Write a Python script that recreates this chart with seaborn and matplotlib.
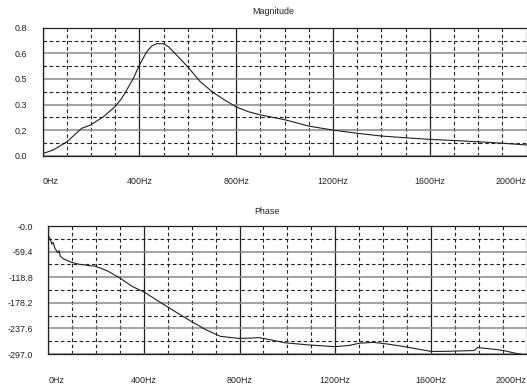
import numpy as np
import pandas as pd
import matplotlib
matplotlib.use("Agg")
import matplotlib.pyplot as plt
from matplotlib.ticker import FixedLocator, MultipleLocator
import seaborn as sns

# ---- data ----
mag_freq = [0, 44, 100, 161, 198, 251, 299, 327, 347, 375, 400, 430, 451, 471,
            499, 520, 540, 600, 650, 700, 750, 800, 850, 900, 1000, 1100, 1200,
            1300, 1400, 1500, 1600, 1700, 1800, 1900, 2000]
mag_vals = [0.013, 0.036, 0.087, 0.171, 0.192, 0.244, 0.306, 0.359, 0.41, 0.484,
            0.567, 0.65, 0.686, 0.70, 0.70, 0.681, 0.65, 0.555, 0.465, 0.40,
            0.35, 0.305, 0.275, 0.255, 0.225, 0.185, 0.16, 0.14, 0.123, 0.112,
            0.102, 0.095, 0.087, 0.078, 0.067]

ph_freq = [0, 8, 15, 20, 28, 35, 40, 45, 50, 60, 70, 80, 95, 110, 130, 150, 170,
           195, 220, 250, 300, 350, 400, 465, 520, 600, 660, 720, 800, 850, 880,
           920, 990, 1090, 1200, 1260, 1300, 1360, 1420, 1490, 1560, 1600, 1650,
           1715, 1780, 1795, 1830, 1880, 1920, 1960, 1975]
ph_vals = [-22, -30, -42, -38, -52, -58, -62, -57, -70, -75, -78, -80, -84, -86,
           -89, -90, -92, -93, -98, -105, -121, -140, -153, -176, -195, -222,
           -241, -256, -261, -260, -259, -263, -271, -276, -280, -277, -272,
           -270, -274, -280, -287, -291, -291, -290, -289, -282, -284, -287,
           -291, -296, -297]

x_ticks = [0, 400, 800, 1200, 1600, 2000]
x_labels = ["0Hz", "400Hz", "800Hz", "1200Hz", "1600Hz", "2000Hz"]
mag_ticks = [0.0, 0.16, 0.32, 0.48, 0.64, 0.80]
mag_labels = ["0.0", "0.2", "0.3", "0.5", "0.6", "0.8"]
ph_ticks = [0.0, -59.4, -118.8, -178.2, -237.6, -297.0]
ph_labels = ["-0.0", "-59.4", "-118.8", "-178.2", "-237.6", "-297.0"]

sns.set_style("white")
plt.rcParams["font.family"] = ["Liberation Sans", "DejaVu Sans"]

W, H = 527, 386
fig = plt.figure(figsize=(W / 100, H / 100), dpi=100)

def px_axes(left, top, right, bottom):
    return fig.add_axes([left / W, 1 - bottom / H, (right - left) / W, (bottom - top) / H])

ax1 = px_axes(42.7, 27.7, 527, 155.7)
ax2 = px_axes(48.3, 226, 527, 354)

mag_df = pd.DataFrame({"freq": mag_freq, "value": mag_vals})
ph_df = pd.DataFrame({"freq": ph_freq, "value": ph_vals})

sns.lineplot(data=mag_df, x="freq", y="value", ax=ax1, color="#202020", lw=0.8)
sns.lineplot(data=ph_df, x="freq", y="value", ax=ax2, color="#202020", lw=0.8)

def style(ax, yticks, ylabels, ylim, xmax):
    ax.set_xlim(0, xmax)
    ax.set_ylim(*ylim)
    ax.set_xlabel("")
    ax.set_ylabel("")
    ax.xaxis.set_major_locator(FixedLocator(x_ticks))
    ax.set_xticklabels(x_labels)
    ax.xaxis.set_minor_locator(MultipleLocator(100))
    ax.yaxis.set_major_locator(FixedLocator(yticks))
    ax.set_yticklabels(ylabels)
    step = (yticks[1] - yticks[0]) / 2
    ax.yaxis.set_minor_locator(FixedLocator([t + step for t in yticks[:-1]]))
    ax.tick_params(which="both", length=0)
    ax.tick_params(axis="x", pad=15.5, labelsize=6.4, labelcolor="#222222")
    ax.tick_params(axis="y", pad=11, labelsize=6.4, labelcolor="#222222")
    ax.grid(False)
    ax.grid(True, axis="x", which="major", color="#222222", lw=0.9, ls="-")
    ax.grid(True, axis="y", which="major", color="#8a8a8a", lw=1.1, ls="-")
    ax.grid(True, which="minor", color="#222222", lw=0.8, ls=(0, (3.2, 2.4)))
    ax.set_axisbelow(True)
    for s in ["left", "top", "bottom"]:
        ax.spines[s].set_color("#222222")
        ax.spines[s].set_linewidth(0.9)
        ax.spines[s].set_visible(True)
    ax.spines["right"].set_visible(False)
    labels = ax.get_xticklabels()
    labels[0].set_ha("left")
    labels[-1].set_ha("right")

style(ax1, mag_ticks, mag_labels, (0, 0.8), 2002)
style(ax2, ph_ticks, ph_labels, (-297, 0), 2002)

fig.text(273 / W, 1 - 12 / H, "Magnitude", ha="center", va="center", fontsize=6.4, color="#222222")
fig.text(267 / W, 1 - 211 / H, "Phase", ha="center", va="center", fontsize=6.4, color="#222222")

fig.savefig("out.png", dpi=100)
